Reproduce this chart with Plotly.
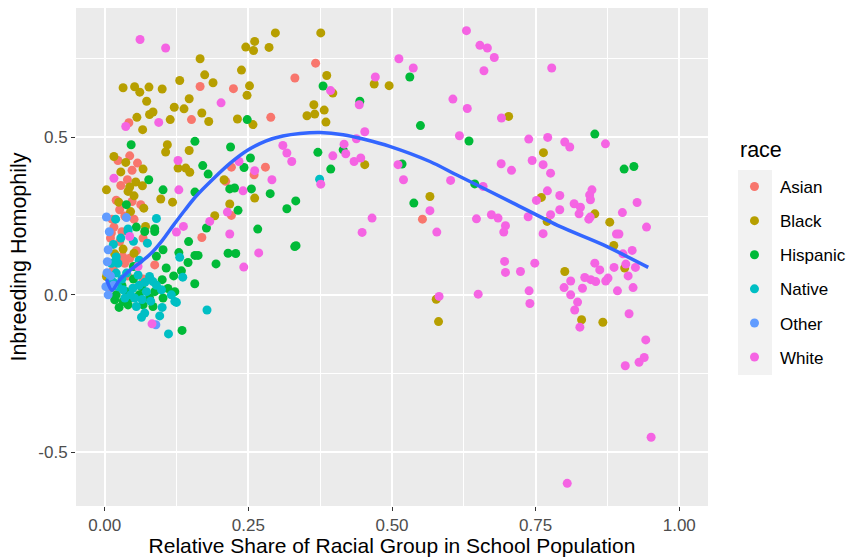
import plotly.graph_objects as go

# Homophily by race: relative group share (x) vs inbreeding homophily (y)
asian_x = [0.042, 0.0435, 0.023, 0.057, 0.0476, 0.0395, 0.028, 0.0476, 0.0627, 0.026,
           0.0127, 0.051, 0.016, 0.0116, 0.026, 0.0667, 0.031, 0.0435, 0.0348, 0.087,
           0.0667, 0.0087, 0.166, 0.224, 0.331, 0.151, 0.289, 0.2205, 0.2797, 0.260,
           0.2106, 0.2205, 0.169, 0.367, 0.553, 0.02, 0.035, 0.01, 0.04, 0.015,
           0.055, 0.03]
asian_y = [0.546, 0.441, 0.426, 0.418, 0.395, 0.365, 0.347, 0.296, 0.286, 0.270,
           0.240, 0.240, 0.215, 0.196, 0.169, 0.180, 0.122, 0.116, 0.100, 0.095,
           0.050, 0.021, 0.661, 0.654, 0.688, 0.556, 0.563, 0.405, 0.405, 0.381,
           0.360, 0.252, 0.182, 0.735, 0.240, 0.30, 0.25, 0.18, 0.06, 0.08,
           0.14, 0.20]

black_x = [0.032, 0.052, 0.061, 0.077, 0.100, 0.073, 0.121, 0.078, 0.084, 0.056,
           0.114, 0.066, 0.109, 0.106, 0.016, 0.0366, 0.028, 0.0667, 0.054, 0.0435,
           0.0656, 0.003, 0.0406, 0.051, 0.0975, 0.0244, 0.118, 0.045, 0.068, 0.071,
           0.0174, 0.032, 0.051, 0.003, 0.297, 0.261, 0.2455, 0.259, 0.286, 0.166,
           0.1305, 0.174, 0.1885, 0.238, 0.252, 0.2477, 0.147, 0.138, 0.169, 0.181,
           0.231, 0.258, 0.147, 0.1276, 0.141, 0.148, 0.2077, 0.261, 0.2176, 0.1915,
           0.376, 0.3864, 0.397, 0.469, 0.495, 0.364, 0.352, 0.3655, 0.382, 0.385,
           0.4526, 0.566, 0.703, 0.7636, 0.760, 0.770, 0.577, 0.581, 0.853, 0.879,
           0.886, 0.905, 0.8007, 0.830, 0.867]
black_y = [0.657, 0.660, 0.643, 0.659, 0.653, 0.614, 0.595, 0.572, 0.580, 0.563,
           0.556, 0.524, 0.476, 0.453, 0.439, 0.420, 0.390, 0.399, 0.358, 0.342,
           0.346, 0.333, 0.328, 0.314, 0.304, 0.294, 0.294, 0.264, 0.275, 0.217,
           0.130, 0.145, 0.132, 0.058, 0.831, 0.804, 0.786, 0.775, 0.785, 0.749,
           0.680, 0.698, 0.673, 0.713, 0.663, 0.633, 0.622, 0.590, 0.577, 0.550,
           0.558, 0.540, 0.458, 0.402, 0.402, 0.389, 0.365, 0.307, 0.288, 0.251,
           0.831, 0.696, 0.640, 0.669, 0.6635, 0.603, 0.568, 0.5735, 0.586, 0.548,
           0.413, 0.312, 0.566, 0.451, 0.309, 0.233, -0.014, -0.085, 0.257, 0.2306,
           0.1566, 0.085, 0.074, -0.079, -0.087]

hispanic_x = [0.046, 0.0766, 0.1015, 0.0377, 0.055, 0.087, 0.0696, 0.087, 0.090, 0.1015,
              0.107, 0.10, 0.038, 0.064, 0.087, 0.0174, 0.032, 0.078, 0.1015, 0.0406,
              0.0667, 0.084, 0.248, 0.157, 0.219, 0.2536, 0.1706, 0.2425, 0.180, 0.157,
              0.2176, 0.226, 0.2553, 0.288, 0.3325, 0.317, 0.232, 0.177, 0.2663, 0.146,
              0.129, 0.157, 0.1625, 0.2147, 0.228, 0.3307, 0.333, 0.145, 0.1937, 0.1335,
              0.1567, 0.1346, 0.122, 0.380, 0.531, 0.444, 0.5495, 0.371, 0.415, 0.3934,
              0.5175, 0.538, 0.634, 0.644, 0.853, 0.904, 0.921, 0.02, 0.05, 0.045,
              0.03, 0.06, 0.025, 0.11, 0.12, 0.05]
hispanic_y = [0.476, 0.365, 0.333, 0.286, 0.215, 0.210, 0.201, 0.201, 0.122, 0.143,
              0.085, 0.048, 0.010, 0.026, 0.010, -0.016, -0.021, -0.010, -0.010, -0.032,
              -0.032, -0.037, 0.556, 0.487, 0.469, 0.434, 0.410, 0.404, 0.383, 0.326,
              0.336, 0.339, 0.336, 0.321, 0.298, 0.273, 0.268, 0.212, 0.2085, 0.169,
              0.134, 0.125, 0.125, 0.132, 0.131, 0.153, 0.156, 0.1025, 0.098, 0.076,
              0.035, -0.113, 0.010, 0.6625, 0.691, 0.614, 0.537, 0.452, 0.460, 0.399,
              0.415, 0.291, 0.488, 0.352, 0.510, 0.399, 0.407, 0.0, 0.05, -0.01,
              0.03, 0.0, -0.04, 0.02, 0.06, 0.09]

native_x = [0.019, 0.090, 0.0406, 0.0743, 0.0116, 0.023, 0.020, 0.038, 0.058, 0.078,
            0.084, 0.023, 0.032, 0.049, 0.0726, 0.0987, 0.116, 0.052, 0.122, 0.055,
            0.0696, 0.0957, 0.064, 0.111, 0.1305, 0.1358, 0.1248, 0.178, 0.374, 0.0406,
            0.015, 0.03, 0.06, 0.045, 0.035, 0.07, 0.08, 0.09, 0.065, 0.10,
            0.02, 0.015, 0.028, 0.05, 0.06, 0.01]
native_y = [0.240, 0.242, 0.209, 0.164, 0.100, 0.100, 0.069, 0.069, 0.063, 0.058,
            0.042, 0.026, 0.016, 0.021, 0.010, 0.016, 0.0, -0.010, -0.021, -0.037,
            -0.058, -0.067, -0.071, -0.124, 0.119, 0.056, -0.024, -0.048, 0.367, 0.201,
            0.04, 0.05, 0.03, 0.0, -0.01, 0.04, -0.02, 0.03, -0.015, -0.04,
            0.12, 0.16, 0.18, 0.17, 0.11, 0.05]

other_x = [0.003, 0.0377, 0.006, 0.0045, 0.002, 0.006, 0.089, 0.01, 0.015, 0.004, 0.008]
other_y = [0.247, 0.245, 0.143, 0.105, 0.026, 0.0, -0.095, 0.06, 0.03, 0.07, 0.20]

white_x = [0.0615, 0.106, 0.0366, 0.094, 0.016, 0.0435, 0.058, 0.0823, 0.1276, 0.2025,
           0.310, 0.317, 0.3255, 0.2337, 0.261, 0.291, 0.129, 0.2407, 0.2135, 0.1828,
           0.137, 0.1248, 0.2176, 0.268, 0.242, 0.393, 0.512, 0.537, 0.471, 0.443,
           0.4526, 0.438, 0.4166, 0.4195, 0.397, 0.434, 0.4456, 0.5105, 0.376, 0.520,
           0.566, 0.4653, 0.448, 0.6296, 0.653, 0.666, 0.678, 0.660, 0.778, 0.606,
           0.631, 0.6905, 0.6174, 0.738, 0.771, 0.744, 0.763, 0.776, 0.690, 0.708,
           0.602, 0.6585, 0.7514, 0.7705, 0.792, 0.578, 0.647, 0.673, 0.6846, 0.6975,
           0.6945, 0.737, 0.776, 0.763, 0.696, 0.6975, 0.7236, 0.7485, 0.582, 0.650,
           0.7386, 0.740, 0.8007, 0.8094, 0.8715, 0.792, 0.848, 0.844, 0.8454, 0.817,
           0.828, 0.8256, 0.845, 0.8425, 0.9266, 0.901, 0.943, 0.8907, 0.895, 0.918,
           0.902, 0.853, 0.907, 0.9237, 0.8865, 0.8616, 0.911, 0.8355, 0.846, 0.8546,
           0.872, 0.876, 0.811, 0.7995, 0.8315, 0.9196, 0.8924, 0.811, 0.823, 0.818,
           0.9126, 0.827, 0.9417, 0.906, 0.930, 0.939, 0.951, 0.805]
white_y = [0.810, 0.783, 0.534, 0.547, 0.370, 0.185, 0.090, -0.092, 0.426, 0.609,
           0.474, 0.450, 0.423, 0.423, 0.394, 0.365, 0.333, 0.330, 0.2625, 0.233,
           0.217, 0.199, 0.193, 0.133, 0.088, 0.648, 0.749, 0.7196, 0.691, 0.603,
           0.5175, 0.495, 0.478, 0.4476, 0.441, 0.423, 0.434, 0.413, 0.351, 0.365,
           0.267, 0.2435, 0.198, 0.838, 0.7915, 0.783, 0.753, 0.711, 0.7196, 0.621,
           0.591, 0.561, 0.5048, 0.494, 0.4995, 0.426, 0.413, 0.386, 0.416, 0.395,
           0.363, 0.344, 0.2995, 0.330, 0.315, 0.199, 0.241, 0.254, 0.2435, 0.219,
           0.199, 0.2476, 0.254, 0.194, 0.106, 0.071, 0.074, 0.1005, -0.005, 0.002,
           0.0127, -0.0276, 0.485, 0.469, 0.479, 0.270, 0.333, 0.317, 0.3016, 0.289,
           0.278, 0.257, 0.2467, 0.240, 0.293, 0.261, 0.215, 0.193, 0.193, 0.141,
           0.130, 0.1005, 0.0975, 0.087, 0.087, 0.079, 0.060, 0.055, 0.048, 0.042,
           0.044, 0.053, 0.044, 0.023, 0.021, 0.023, 0.0127, 0.0, -0.023, -0.048,
           -0.060, -0.1026, -0.143, -0.225, -0.214, -0.199, -0.452, -0.598]

# Smoothed trend (loess) through all groups
smooth_x = [0.003, 0.0127, 0.025, 0.04, 0.06, 0.08, 0.10, 0.12, 0.14, 0.16,
            0.19, 0.22, 0.25, 0.28, 0.31, 0.34, 0.375, 0.415, 0.455, 0.496,
            0.566, 0.612, 0.711, 0.792, 0.867, 0.946]
smooth_y = [0.050, 0.014, 0.045, 0.072, 0.100, 0.130, 0.172, 0.222, 0.270, 0.315,
            0.370, 0.420, 0.460, 0.488, 0.504, 0.512, 0.515, 0.508, 0.492, 0.471,
            0.423, 0.381, 0.291, 0.217, 0.159, 0.087]

races = ["Asian", "Black", "Hispanic", "Native", "Other", "White"]
colors = ["#F8766D", "#B79F00", "#00BA38", "#00BFC4", "#619CFF", "#F564E3"]
xs = [asian_x, black_x, hispanic_x, native_x, other_x, white_x]
ys = [asian_y, black_y, hispanic_y, native_y, other_y, white_y]

fig = go.Figure()
for name, col, x, y in zip(races, colors, xs, ys):
    fig.add_trace(go.Scatter(
        x=x, y=y, mode="markers", name=name, legendgroup=name,
        marker=dict(size=9, color=col, line=dict(width=0)),
    ))

fig.add_trace(go.Scatter(
    x=smooth_x, y=smooth_y, mode="lines", showlegend=False,
    line=dict(color="#3366FF", width=3.5, shape="spline", smoothing=0.8),
))

# legend key backgrounds
fig.add_shape(type="rect", xref="paper", yref="paper",
              x0=1.0475, x1=1.1013, y0=0.2631, y1=0.6747,
              fillcolor="#F2F2F2", line=dict(width=0), layer="below")

# legend title
fig.add_annotation(text="race", xref="paper", yref="paper", x=1.0475, y=0.7149,
                   xanchor="left", yanchor="middle", showarrow=False,
                   font=dict(size=21.5, color="black"))

axis_common = dict(
    showgrid=True, gridcolor="white", gridwidth=1.6, zeroline=False,
    showline=False, ticks="outside", ticklen=4, tickwidth=1.1, automargin=False,
    tickcolor="#333333", tickfont=dict(size=17, color="#4D4D4D"),
)

fig.update_xaxes(
    range=[-0.05, 1.05], tickmode="linear", tick0=0, dtick=0.25, tickformat=".2f",
    minor=dict(showgrid=True, gridcolor="white", gridwidth=0.7, tickmode="array",
               tickvals=[0.125, 0.375, 0.625, 0.875]),
    title=dict(text="Relative Share of Racial Group in School Population",
               font=dict(size=21, color="black"), standoff=4),
    **axis_common,
)
fig.update_yaxes(
    range=[-0.67, 0.91], tickmode="array", tickvals=[-0.5, 0.0, 0.5],
    ticktext=["-0.5", "0.0", "0.5"],
    minor=dict(showgrid=True, gridcolor="white", gridwidth=0.7, tickmode="array",
               tickvals=[-0.25, 0.25, 0.75]),
    title=dict(text="Inbreeding Homophily", font=dict(size=21.5, color="black"),
               standoff=5),
    **axis_common,
)

fig.update_layout(
    width=850, height=557,
    margin=dict(l=76, r=142, t=8, b=51, autoexpand=False),
    paper_bgcolor="white", plot_bgcolor="#EBEBEB",
    font=dict(family="Liberation Sans, Arial, sans-serif"),
    showlegend=True,
    legend=dict(
        font=dict(size=17, color="black"),
        x=1.0332, xanchor="left", y=0.6767, yanchor="top",
        bgcolor="rgba(0,0,0,0)", tracegroupgap=9, itemwidth=41,
    ),
)

fig.write_html("out.html")
